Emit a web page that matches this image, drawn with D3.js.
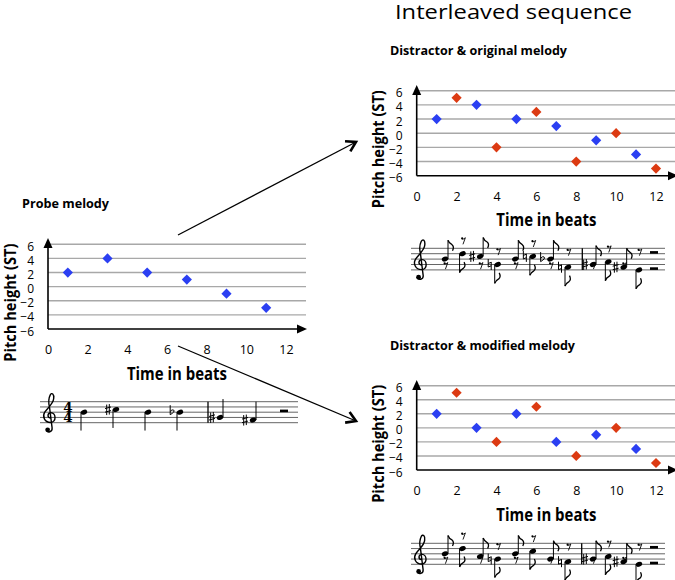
<!DOCTYPE html>
<html><head><meta charset="utf-8">
<script src="https://cdn.jsdelivr.net/npm/d3@7"></script>
<style>body{margin:0;background:#fff}svg{display:block}</style>
</head><body><svg id="c" width="675" height="580"></svg>
<script>
// ---------------- data ----------------
const xTicks = [0, 2, 4, 6, 8, 10, 12];
const yTicks = [-6, -4, -2, 0, 2, 4, 6];
const melodyBeats = [1, 3, 5, 7, 9, 11];
const probeValues = [2, 4, 2, 1, -1, -3];
const originalValues = [2, 4, 2, 1, -1, -3];
const modifiedValues = [2, 0, 2, -2, -1, -3];
const distractorBeats = [2, 4, 6, 8, 10, 12];
const distractorValues = [5, -2, 3, -4, 0, -5];
// notation: accidentals per note (probe by melody order, interleaved by beat 1..12)
const probeAccidentals = ["", "sharp", "", "flat", "sharp", "sharp"];
const originalAccidentals = ["", "", "sharp", "natural", "", "natural", "flat", "natural", "sharp", "", "sharp", ""];
const modifiedAccidentals = ["", "", "", "natural", "", "", "", "natural", "sharp", "", "sharp", ""];
// semitone (re A4) -> diatonic staff step above bottom line E4
const staffStep = {"-5": 0, "-4": 1, "-3": 1, "-2": 2, "-1": 2, "0": 3, "1": 4, "2": 4, "3": 5, "4": 5, "5": 6};

const BLUE = "#2b3ff2", RED = "#dc3a12";
const FONT = "'Open Sans', 'Liberation Sans', sans-serif";
const svg = d3.select("#c");
svg.append("rect").attr("width", 675).attr("height", 580).attr("fill", "#fff");

function drawChart(c) {
  const g = svg.append("g");
  const x = d3.scaleLinear().domain([0, 12]).range([c.x0, c.x12]);
  const y = d3.scaleLinear().domain([-6, 6]).range([c.yb, c.yt]);
  g.selectAll("line.grid").data(yTicks.filter(v => v > -6)).join("line")
    .attr("class", "grid").attr("x1", x(0)).attr("x2", c.gridRight)
    .attr("y1", d => y(d)).attr("y2", d => y(d))
    .attr("stroke", "#a8a8a8").attr("stroke-width", 1.4);
  // axes
  g.append("line").attr("x1", x(0)).attr("x2", c.axisRight - 6).attr("y1", y(-6)).attr("y2", y(-6))
    .attr("stroke", "#000").attr("stroke-width", 1.6);
  g.append("path").attr("d", `M${c.axisRight},${y(-6)} l-10,-4.5 v9z`).attr("fill", "#000");
  g.append("line").attr("x1", x(0)).attr("x2", x(0)).attr("y1", y(-6)).attr("y2", c.axisTop + 6)
    .attr("stroke", "#000").attr("stroke-width", 1.6);
  g.append("path").attr("d", `M${x(0)},${c.axisTop} l-4.5,10 h9z`).attr("fill", "#000");
  // tick labels via d3 axes
  const ya = g.append("g").attr("transform", `translate(${x(0)},0)`)
    .call(d3.axisLeft(y).tickValues(yTicks).tickSize(0).tickPadding(14).tickFormat(d3.format("d")));
  ya.select(".domain").remove();
  ya.selectAll("text").attr("dy", "0.5em").attr("font-size", 12).attr("font-family", FONT).attr("fill", "#000");
  const xa = g.append("g").attr("transform", `translate(0,${y(-6)})`)
    .call(d3.axisBottom(x).tickValues(xTicks).tickSize(0).tickPadding(16.5));
  xa.select(".domain").remove();
  xa.selectAll("text").attr("font-size", 12.5).attr("font-family", FONT).attr("fill", "#000");
  // axis titles
  g.append("text").attr("x", x(6.5)).attr("y", y(-6) + 50.5).attr("text-anchor", "middle")
    .attr("font-family", FONT).attr("font-weight", "bold").attr("font-size", 17)
    .attr("textLength", 100).attr("lengthAdjust", "spacingAndGlyphs").text("Time in beats");
  g.append("text").attr("transform", `translate(${x(0) - 32.5},${(c.yb + c.yt) / 2 + 16}) rotate(-90)`)
    .attr("text-anchor", "middle")
    .attr("font-family", FONT).attr("font-weight", "bold").attr("font-size", 16.5)
    .attr("textLength", 118).attr("lengthAdjust", "spacingAndGlyphs").text("Pitch height (ST)");
  // title
  g.append("text").attr("x", c.titleX).attr("y", c.titleY)
    .attr("font-family", FONT).attr("font-weight", "bold").attr("font-size", 13)
    .attr("textLength", c.titleLen).attr("lengthAdjust", "spacingAndGlyphs").text(c.title);
  // series
  const sym = d3.symbol(d3.symbolSquare, 52);
  c.series.forEach(s => {
    const pts = s.beats.map((b, i) => [b, s.values[i]]);
    g.selectAll(null).data(pts).join("path").attr("d", sym)
      .attr("transform", d => `translate(${x(d[0])},${y(d[1])}) rotate(45)`)
      .attr("fill", s.color);
  });
}

drawChart({x0: 48, x12: 286, yb: 329, yt: 244.3, gridRight: 306, axisRight: 307, axisTop: 238,
  title: "Probe melody", titleX: 22, titleY: 208, titleLen: 87,
  series: [{beats: melodyBeats, values: probeValues, color: BLUE}]});
drawChart({x0: 416.7, x12: 656, yb: 175.7, yt: 90.7, gridRight: 675, axisRight: 678, axisTop: 85,
  title: "Distractor & original melody", titleX: 390, titleY: 55, titleLen: 177,
  series: [{beats: melodyBeats, values: originalValues, color: BLUE},
           {beats: distractorBeats, values: distractorValues, color: RED}]});
drawChart({x0: 416.7, x12: 656, yb: 470, yt: 385.7, gridRight: 675, axisRight: 678, axisTop: 380,
  title: "Distractor & modified melody", titleX: 390, titleY: 350, titleLen: 185,
  series: [{beats: melodyBeats, values: modifiedValues, color: BLUE},
           {beats: distractorBeats, values: distractorValues, color: RED}]});

// main title
svg.append("text").attr("x", 395).attr("y", 19).attr("font-family", FONT).attr("font-size", 20.5)
  .attr("textLength", 237).attr("lengthAdjust", "spacingAndGlyphs").text("Interleaved sequence");

// connecting arrows
function arrow(x1, y1, x2, y2) {
  svg.append("line").attr("x1", x1).attr("y1", y1).attr("x2", x2).attr("y2", y2)
    .attr("stroke", "#000").attr("stroke-width", 1.3);
  const a = Math.atan2(y2 - y1, x2 - x1), L = 11;
  const p = s => [x2 - L * Math.cos(a + s), y2 - L * Math.sin(a + s)];
  const [ax, ay] = p(0.55), [bx, by] = p(-0.55);
  svg.append("path").attr("d", `M${ax},${ay} L${x2},${y2} L${bx},${by}`)
    .attr("fill", "none").attr("stroke", "#000").attr("stroke-width", 2.6)
    .attr("stroke-linejoin", "miter");
}
arrow(178, 235, 356, 142);
arrow(178, 346, 356, 421);

// ---------------- scores ----------------
function accidental(g, kind, x, y) {
  let d = "";
  if (kind === "sharp") {
    d = `M${x - 1.3},${y - 5} V${y + 5.5} M${x + 1.3},${y - 5.5} V${y + 5}
         M${x - 3},${y - 1} L${x + 3},${y - 2.6} M${x - 3},${y + 2.6} L${x + 3},${y + 1}`;
  } else if (kind === "flat") {
    d = `M${x - 1.8},${y - 7} V${y + 2.5} Q${x + 3.5},${y - 0.5} ${x + 1.6},${y - 2.2} Q${x},${y - 3} ${x - 1.8},${y - 0.8}`;
  } else if (kind === "natural") {
    d = `M${x - 1.5},${y - 5.5} V${y + 2.5} M${x + 1.5},${y - 2.5} V${y + 5.5}
         M${x - 1.5},${y - 1} L${x + 1.5},${y - 2.2} M${x - 1.5},${y + 2.5} L${x + 1.5},${y + 1.3}`;
  }
  g.append("path").attr("d", d).attr("fill", "none").attr("stroke", "#000").attr("stroke-width", 1);
}

function drawScore(s) {
  const g = svg.append("g");
  const sp = s.sp;
  const lineY = i => s.top + i * sp;
  const posY = p => s.top + 4 * sp - p * sp / 2;
  g.selectAll("line.staff").data(d3.range(5)).join("line")
    .attr("x1", s.x0).attr("x2", s.x1).attr("y1", lineY).attr("y2", lineY)
    .attr("stroke", "#555").attr("stroke-width", 0.9);
  g.append("line").attr("x1", s.bar).attr("x2", s.bar).attr("y1", lineY(0)).attr("y2", lineY(4))
    .attr("stroke", "#000").attr("stroke-width", 1.3);
  // treble clef
  const cx = s.clefX, cy = posY(2), u = sp;
  const P = (a, b) => `${cx + a * u},${cy + b * u}`;
  const clef = `M${P(0.1, 0.1)} C${P(-0.6, 0)} ${P(-0.5, -0.9)} ${P(0.2, -0.9)}
    C${P(1.15, -0.9)} ${P(1.3, 0.95)} ${P(0.1, 0.95)}
    C${P(-1.05, 0.95)} ${P(-1.5, -0.2)} ${P(-1.0, -1.0)}
    C${P(-0.5, -1.8)} ${P(0.65, -2.6)} ${P(0.7, -3.6)}
    C${P(0.8, -4.5)} ${P(0.35, -4.8)} ${P(0.05, -4.3)}
    C${P(-0.3, -3.6)} ${P(-0.3, -2.8)} ${P(-0.1, -2.0)}
    L${P(0.4, 2.0)} C${P(0.5, 2.8)} ${P(-0.5, 3.0)} ${P(-0.7, 2.4)}`;
  g.append("path").attr("d", clef).attr("fill", "none").attr("stroke", "#000").attr("stroke-width", 1.4);
  g.append("circle").attr("cx", cx - 0.45 * u).attr("cy", cy + 2.35 * u).attr("r", 0.45 * u).attr("fill", "#000");
  if (s.timeSig) {
    g.append("text").attr("x", s.timeX).attr("y", lineY(2) - 0.3)
      .attr("text-anchor", "middle").attr("font-family", "'DejaVu Serif', serif").attr("font-weight", "bold")
      .attr("font-size", 13.5).attr("fill", "#000")
      .selectAll("tspan").data(["4", "4"]).join("tspan")
      .attr("x", s.timeX).attr("dy", (d, i) => i ? 2 * sp : 0).text(d => d);
  }
  const xs = d3.scaleLinear().domain(s.beatDomain).range(s.beatRange);
  const stemLen = 3.5 * sp;
  s.notes.forEach(n => {
    const nx = xs(n.beat), ny = posY(staffStep[String(n.value)]);
    g.append("ellipse").attr("cx", nx).attr("cy", ny).attr("rx", 3.3).attr("ry", 2.4)
      .attr("transform", `rotate(-22,${nx},${ny})`).attr("fill", "#000");
    if (n.acc) accidental(g, n.acc, nx - 8, ny);
    let up = n.up;
    if (up === undefined) up = staffStep[String(n.value)] < 4;
    if (up) {
      const sx = nx + 3.0, top = ny - stemLen;
      g.append("line").attr("x1", sx).attr("x2", sx).attr("y1", ny).attr("y2", top).attr("stroke", "#000").attr("stroke-width", 1);
      if (n.flag) g.append("path").attr("d", `M${sx},${top} q1,3 4,4.5 q2.5,2 0.5,6`)
        .attr("fill", "none").attr("stroke", "#000").attr("stroke-width", 1.3);
    } else {
      const sx = nx - 3.0, bot = ny + stemLen;
      g.append("line").attr("x1", sx).attr("x2", sx).attr("y1", ny).attr("y2", bot).attr("stroke", "#000").attr("stroke-width", 1);
      if (n.flag) g.append("path").attr("d", `M${sx},${bot} q1,-3 4,-4.5 q2.5,-2 0.5,-6`)
        .attr("fill", "none").attr("stroke", "#000").attr("stroke-width", 1.3);
    }
    if (n.rest !== undefined) {
      const rx = nx + 1, ry = n.rest === "below" ? s.top + 3.2 * sp : Math.min(s.top + 0.7 * sp, ny - 2.4 * sp);
      g.append("circle").attr("cx", rx - 1.4).attr("cy", ry - 2.3).attr("r", 1.1).attr("fill", "#000");
      g.append("path").attr("d", `M${rx - 1.6},${ry - 1.8} Q${rx},${ry - 1.2} ${rx + 1.8},${ry - 3} L${rx - 0.6},${ry + 3.6}`)
        .attr("fill", "none").attr("stroke", "#000").attr("stroke-width", 0.9);
    }
  });
  s.endRests.forEach(li => g.append("rect").attr("x", s.restX - 4).attr("y", lineY(li) - 2.6)
    .attr("width", 8).attr("height", 2.6).attr("fill", "#000"));
}

const probeNotes = melodyBeats.map((b, i) => ({beat: b, value: probeValues[i], acc: probeAccidentals[i]}));
function interleave(values, accs) {
  const notes = [];
  melodyBeats.forEach((b, i) => notes.push({beat: b, value: values[i], up: true, flag: true, rest: "below"}));
  distractorBeats.forEach((b, i) => notes.push({beat: b, value: distractorValues[i], up: false, flag: true, rest: "above"}));
  notes.sort((a, b) => a.beat - b.beat);
  notes.forEach(n => n.acc = accs[n.beat - 1]);
  return notes;
}

drawScore({x0: 40, x1: 298, top: 401.7, sp: 5.25, bar: 208, clefX: 50, timeSig: true, timeX: 68,
  beatDomain: [1, 7, 9, 11], beatRange: [84, 180, 220, 253], notes: probeNotes, restX: 284, endRests: [2]});
drawScore({x0: 411, x1: 665, top: 248.3, sp: 5.4, bar: 582.3, clefX: 421,
  beatDomain: [1, 8, 9, 12], beatRange: [445, 568, 593, 639],
  notes: interleave(originalValues, originalAccidentals), restX: 654, endRests: [1, 4]});
drawScore({x0: 411, x1: 665, top: 543.3, sp: 5.25, bar: 581.7, clefX: 421,
  beatDomain: [1, 8, 9, 12], beatRange: [445, 568, 593, 639],
  notes: interleave(modifiedValues, modifiedAccidentals), restX: 654, endRests: [1, 4]});
</script></body></html>
